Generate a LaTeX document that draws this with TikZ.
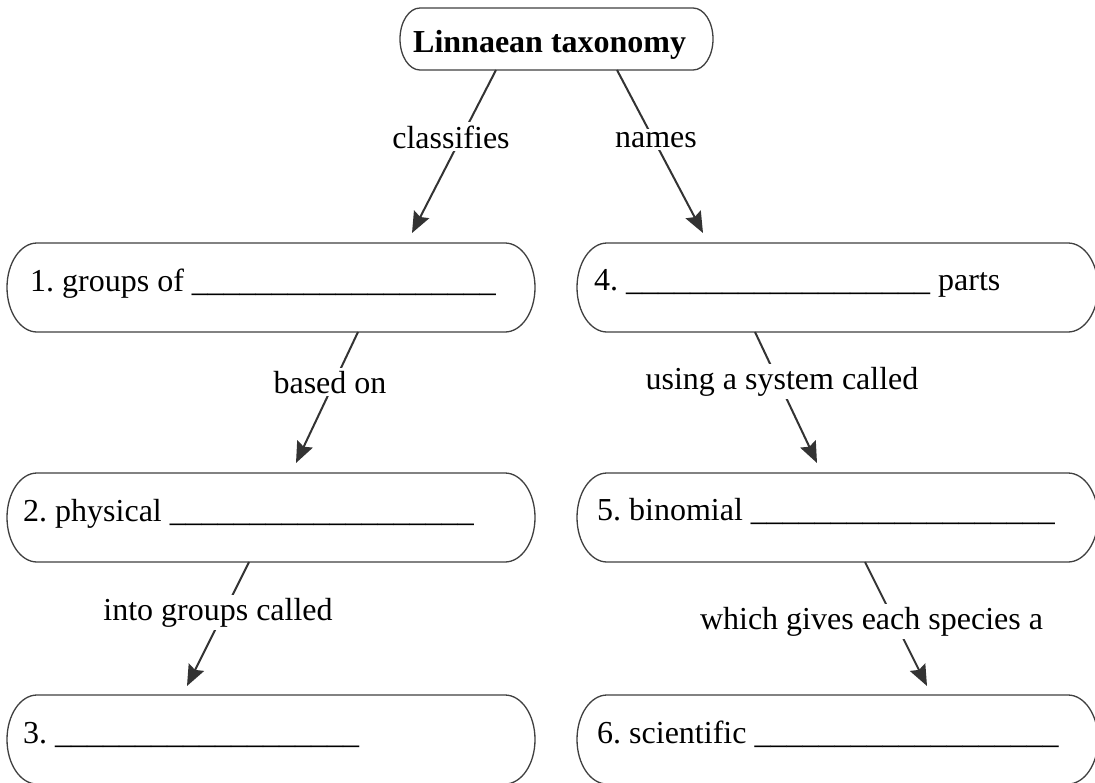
\documentclass[tikz,border=0pt]{standalone}
\usepackage{fontspec}
\setmainfont{Liberation Serif}
\usetikzlibrary{arrows.meta}
\frenchspacing
\newcommand\blnk{\_\_\_\_\_\_\_\_\_\_\_\_\_\_\_\_\_\_\_}
\newcommand\capsule[3]{%
  \draw[boxline] ([xshift=#2pt]#1.north west) -- ([xshift=-#2pt]#1.north east)
    arc[start angle=90,end angle=-90,x radius=#2pt,y radius=#3pt]
    -- ([xshift=#2pt]#1.south west)
    arc[start angle=270,end angle=90,x radius=#2pt,y radius=#3pt] -- cycle;}
\begin{document}
\begin{tikzpicture}[x=1pt,y=-1pt,
  boxn/.style={inner sep=0pt, outer sep=0pt, minimum height=89pt, minimum width=528pt},
  rbox/.style={boxn, minimum width=521pt},
  boxline/.style={draw=black!75, line width=1.3pt},
  conn/.style={draw=black!80, line width=2pt, -{Stealth[length=21pt,width=17pt,inset=3pt]}},
  txt/.style={inner sep=0pt, anchor=base west, font=\fontsize{32pt}{38pt}\selectfont\frenchspacing},
  lab/.style={fill=white, inner sep=3pt, anchor=base, font=\fontsize{32pt}{38pt}\selectfont}]
\useasboundingbox (0,0) rectangle (1095,782);
\fill[white] (0,0) rectangle (1095,782);
\clip (0,0) rectangle (1095,782);

% boxes
\node[boxn, minimum width=313pt, minimum height=62pt] (top) at (556.5,39) {};
\node[boxn] (b1) at (271,287.5) {};
\node[boxn] (b2) at (271,517.5) {};
\node[boxn] (b3) at (271,739.5) {};
\node[rbox] (b4) at (837.5,287.5) {};
\node[rbox] (b5) at (837.5,517.5) {};
\node[rbox] (b6) at (837.5,739.5) {};
\capsule{top}{20}{31}
\capsule{b1}{30}{44.5}
\capsule{b2}{30}{44.5}
\capsule{b3}{30}{44.5}
\capsule{b4}{30}{44.5}
\capsule{b5}{30}{44.5}
\capsule{b6}{30}{44.5}

% texts
\node[txt] (ttop) at (413,52) {\bfseries Linnaean taxonomy};
\node[txt] (t1) at (30,291) {1. groups of \blnk};
\node[txt] (t2) at (23,521) {2. physical \blnk};
\node[txt] (t3) at (23,743) {3. \blnk};
\node[txt] (t4) at (594,290) {4. \blnk{} parts};
\node[txt] (t5) at (597,520) {5. binomial \blnk};
\node[txt] (t6) at (597,743) {6. scientific \blnk};

% connectors
\draw[conn] ([xshift=-60.5pt]top.south) -- ([xshift=141pt,yshift=10pt]b1.north);
\draw[conn] ([xshift=60.5pt]top.south) -- ([xshift=-134.5pt,yshift=10pt]b4.north);
\draw[conn] ([xshift=87pt]b1.south) -- ([xshift=25pt,yshift=10pt]b2.north);
\draw[conn] ([xshift=-82.5pt]b4.south) -- ([xshift=-20.5pt,yshift=10pt]b5.north);
\draw[conn] ([xshift=-22pt]b2.south) -- ([xshift=-84pt,yshift=9pt]b3.north);
\draw[conn] ([xshift=27.5pt]b5.south) -- ([xshift=89.5pt,yshift=9pt]b6.north);

% connector labels
\node[lab] (l1) at (451,148) {classifies};
\node[lab] (l2) at (656,147) {names};
\node[lab] (l3) at (330,393) {based on};
\node[lab] (l4) at (782,389) {using a system called};
\node[lab] (l5) at (218,620) {into groups called};
\node[lab] (l6) at (871.5,629) {which gives each species a};
\end{tikzpicture}
\end{document}
